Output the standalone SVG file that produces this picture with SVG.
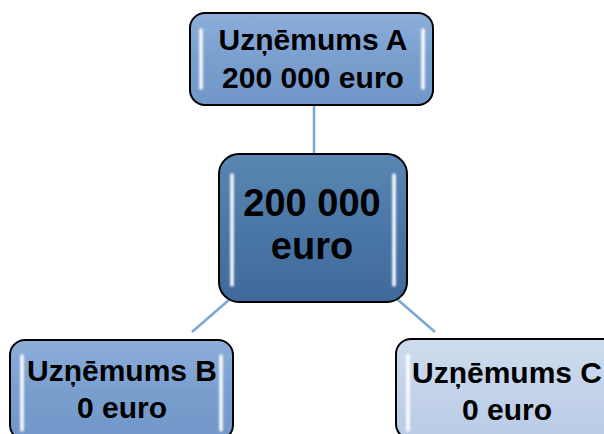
<svg xmlns="http://www.w3.org/2000/svg" width="604" height="434" viewBox="0 0 604 434">
<defs>
<linearGradient id="gA" x1="0" y1="0" x2="0" y2="1"><stop offset="0" stop-color="#8CAEDA"/><stop offset="0.5" stop-color="#7A9FCF"/><stop offset="1" stop-color="#7097C8"/></linearGradient>
<linearGradient id="gM" x1="0" y1="0" x2="0" y2="1"><stop offset="0" stop-color="#5A86B3"/><stop offset="0.5" stop-color="#4A77A5"/><stop offset="1" stop-color="#40699A"/></linearGradient>
<linearGradient id="gC" x1="0" y1="0" x2="0" y2="1"><stop offset="0" stop-color="#CFDCEE"/><stop offset="0.5" stop-color="#C3D3EA"/><stop offset="1" stop-color="#B9CBE5"/></linearGradient>
<filter id="glow" filterUnits="userSpaceOnUse" x="0" y="0" width="604" height="434"><feGaussianBlur stdDeviation="0.8"/></filter>
</defs>
<style>
.box{stroke:#000;stroke-width:2}
.hl{stroke:#fff;stroke-width:3.5;stroke-linecap:round;fill:none;filter:url(#glow)}
.t{font-family:"Liberation Sans",Arial,sans-serif;font-weight:bold;fill:#000;text-anchor:middle}
.conn{stroke:#7BA7D6;stroke-width:2.5;fill:none}
</style>
<g id="connectors">
<line class="conn" x1="314" y1="105" x2="314" y2="155"/>
<line class="conn" x1="230" y1="299" x2="192" y2="332"/>
<line class="conn" x1="397" y1="299" x2="435" y2="332"/>
</g>
<g id="nodeA">
<rect class="box" x="190" y="13" width="243" height="92" rx="15" fill="url(#gA)"/>
<line class="hl" x1="201" y1="30" x2="201" y2="88"/>
<line class="hl" x1="423" y1="30" x2="423" y2="88"/>
<text class="t" x="313" y="50" font-size="30">Uzņēmums A</text>
<text class="t" x="313" y="88" font-size="30">200 000 euro</text>
</g>
<g id="nodeM">
<rect class="box" x="219" y="154" width="188" height="148" rx="20" fill="url(#gM)"/>
<line class="hl" x1="232" y1="175" x2="232" y2="285"/>
<line class="hl" x1="394" y1="175" x2="394" y2="285"/>
<text class="t" x="312" y="216" font-size="38">200 000</text>
<text class="t" x="312" y="259" font-size="38">euro</text>
</g>
<g id="nodeB">
<rect class="box" x="10" y="340" width="223" height="100" rx="15" fill="url(#gA)"/>
<line class="hl" x1="22" y1="356" x2="22" y2="430"/>
<line class="hl" x1="221" y1="356" x2="221" y2="430"/>
<text class="t" x="122" y="381" font-size="30">Uzņēmums B</text>
<text class="t" x="122" y="418" font-size="30">0 euro</text>
</g>
<g id="nodeC">
<rect class="box" x="396" y="339" width="223" height="100" rx="15" fill="url(#gC)"/>
<line class="hl" x1="408" y1="356" x2="408" y2="430"/>
<text class="t" x="507" y="383" font-size="30">Uzņēmums C</text>
<text class="t" x="507" y="420" font-size="30">0 euro</text>
</g>
</svg>
